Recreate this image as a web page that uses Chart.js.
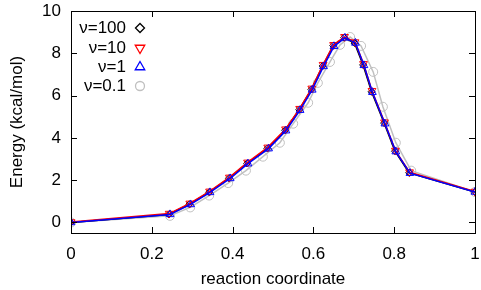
<!DOCTYPE html>
<html>
<head>
<meta charset="utf-8">
<script src="https://cdn.jsdelivr.net/npm/chart.js@4"></script>
<style>
  html, body { margin: 0; padding: 0; background: #fff; }
  #wrap { width: 481px; height: 290px; }
</style>
</head>
<body>
<div id="wrap"><canvas id="chart" width="481" height="290"></canvas></div>
<script>
// reaction coordinate / energy for each nu
const x100 = [0, 0.242, 0.293, 0.342, 0.391, 0.436, 0.486, 0.530, 0.565, 0.595, 0.623, 0.649, 0.676, 0.702, 0.723, 0.744, 0.775, 0.802, 0.837, 1.0]
const e100 = [0, 0.38, 0.86, 1.43, 2.09, 2.79, 3.50, 4.36, 5.33, 6.29, 7.40, 8.36, 8.74, 8.48, 7.45, 6.18, 4.70, 3.37, 2.35, 1.44]

const x10 = [0, 0.243, 0.294, 0.343, 0.392, 0.437, 0.487, 0.531, 0.566, 0.596, 0.624, 0.650, 0.677, 0.703, 0.724, 0.745, 0.776, 0.803, 0.838, 1.0]
const e10 = [0.02, 0.42, 0.90, 1.47, 2.13, 2.84, 3.55, 4.41, 5.38, 6.34, 7.46, 8.40, 8.78, 8.53, 7.50, 6.23, 4.74, 3.40, 2.38, 1.46]

const x1 = [0, 0.245, 0.296, 0.344, 0.394, 0.438, 0.489, 0.532, 0.567, 0.597, 0.625, 0.651, 0.678, 0.704, 0.725, 0.746, 0.777, 0.804, 0.839, 1.0]
const e1 = [0, 0.38, 0.85, 1.42, 2.08, 2.78, 3.49, 4.34, 5.31, 6.27, 7.38, 8.33, 8.73, 8.49, 7.43, 6.16, 4.67, 3.35, 2.33, 1.44]

const x01 = [0, 0.245, 0.295, 0.342, 0.389, 0.433, 0.475, 0.517, 0.550, 0.587, 0.611, 0.641, 0.666, 0.691, 0.718, 0.748, 0.772, 0.804, 0.842, 1.0]
const e01 = [0, 0.31, 0.71, 1.27, 1.86, 2.45, 3.11, 3.77, 4.67, 5.66, 6.60, 7.59, 8.40, 8.77, 8.35, 7.12, 5.47, 3.77, 2.45, 1.44]

const xTicks = [0, 0.2, 0.4, 0.6, 0.8, 1]
const yTicks = [0, 2, 4, 6, 8, 10]

const FONT = "'Liberation Sans', Arial, sans-serif"
const FSIZE = 17

const pts = (xs, ys) => xs.map((x, i) => ({x: x, y: ys[i]}))

// gnuplot-ish frame with inward ticks on all four sides
const framePlugin = {
  id: 'frame',
  afterDraw(chart) {
    const {ctx, chartArea: a, scales} = chart
    ctx.save()
    ctx.strokeStyle = '#000'
    ctx.lineWidth = 1
    ctx.beginPath()
    const len = 6
    yTicks.forEach(v => {
      const y = Math.round(scales.y.getPixelForValue(v)) + 0.5
      ctx.moveTo(a.left, y); ctx.lineTo(a.left + len, y)
      ctx.moveTo(a.right, y); ctx.lineTo(a.right - len, y)
    })
    xTicks.forEach(v => {
      const x = Math.round(scales.x.getPixelForValue(v)) + 0.5
      ctx.moveTo(x, a.bottom); ctx.lineTo(x, a.bottom - len)
      ctx.moveTo(x, a.top); ctx.lineTo(x, a.top + len)
    })
    ctx.stroke()
    ctx.strokeRect(Math.round(a.left) + 0.5, Math.round(a.top) + 0.5,
                   Math.round(a.right - a.left), Math.round(a.bottom - a.top))
    ctx.restore()
  }
}

// legend inside the plot, text right aligned, marker after it
const legendPlugin = {
  id: 'innerLegend',
  afterDraw(chart) {
    const {ctx} = chart
    const rows = [28, 48, 67, 86]
    ctx.save()
    ctx.font = FSIZE + 'px ' + FONT
    ctx.textAlign = 'right'
    ctx.textBaseline = 'middle'
    chart.data.datasets.forEach((ds, i) => {
      const y = rows[i]
      ctx.fillStyle = '#000'
      ctx.fillText(ds.label, 126, y)
      ctx.fillStyle = 'rgba(0,0,0,0)'
      ctx.strokeStyle = ds.pointBorderColor
      ctx.lineWidth = 1.3
      Chart.helpers.drawPoint(ctx, {
        pointStyle: ds.pointStyle,
        radius: ds.legendRadius,
        rotation: ds.rotation || 0,
        borderWidth: 1.3
      }, 140, y)
    })
    ctx.restore()
  }
}

function series(label, xs, ys, color, style, radius, rot, order) {
  return {
    label: label,
    data: pts(xs, ys),
    borderColor: color,
    backgroundColor: 'rgba(0,0,0,0)',
    borderWidth: 1.5,
    pointStyle: style,
    pointRadius: radius,
    pointHoverRadius: radius,
    legendRadius: style == 'circle' ? radius : radius + 1,
    rotation: rot,
    pointBorderColor: color,
    pointBackgroundColor: 'rgba(0,0,0,0)',
    pointBorderWidth: 1,
    fill: false,
    tension: 0,
    order: order
  }
}

new Chart(document.getElementById('chart'), {
  type: 'scatter',
  data: {
    datasets: [
      series('ν=100', x100, e100, '#000000', 'rectRot', 3.5, 0, 3),
      series('ν=10', x10, e10, '#ff0000', 'triangle', 4.5, 180, 2),
      series('ν=1', x1, e1, '#0000ff', 'triangle', 4.5, 0, 1),
      series('ν=0.1', x01, e01, '#c0c0c0', 'circle', 4.5, 0, 4)
    ]
  },
  options: {
    responsive: false,
    animation: false,
    showLine: true,
    layout: {padding: {top: 11, right: 6, left: 0, bottom: 0}},
    plugins: {legend: {display: false}, tooltip: {enabled: false}},
    scales: {
      x: {
        type: 'linear',
        min: 0, max: 1,
        afterBuildTicks: s => { s.ticks = xTicks.map(v => ({value: v})) },
        afterFit: s => { s.height = 57; s.paddingLeft = 0; s.paddingRight = 0 },
        grid: {display: false, drawTicks: false},
        border: {display: false},
        ticks: {
          padding: 11,
          color: '#000',
          maxRotation: 0,
          font: {family: FONT, size: FSIZE},
          callback: v => String(v)
        },
        title: {
          display: true,
          text: 'reaction coordinate',
          color: '#000',
          font: {family: FONT, size: FSIZE},
          padding: {top: 0, bottom: 0}
        }
      },
      y: {
        type: 'linear',
        min: -0.5, max: 10,
        afterBuildTicks: s => { s.ticks = yTicks.map(v => ({value: v})) },
        afterFit: s => { s.width = 71; s.paddingTop = 0; s.paddingBottom = 0 },
        grid: {display: false, drawTicks: false},
        border: {display: false},
        ticks: {
          padding: 10,
          color: '#000',
          font: {family: FONT, size: FSIZE}
        },
        title: {
          display: true,
          text: 'Energy (kcal/mol)',
          color: '#000',
          font: {family: FONT, size: FSIZE},
          padding: {top: 7, bottom: 0}
        }
      }
    }
  },
  plugins: [framePlugin, legendPlugin]
})
</script>
</body>
</html>
